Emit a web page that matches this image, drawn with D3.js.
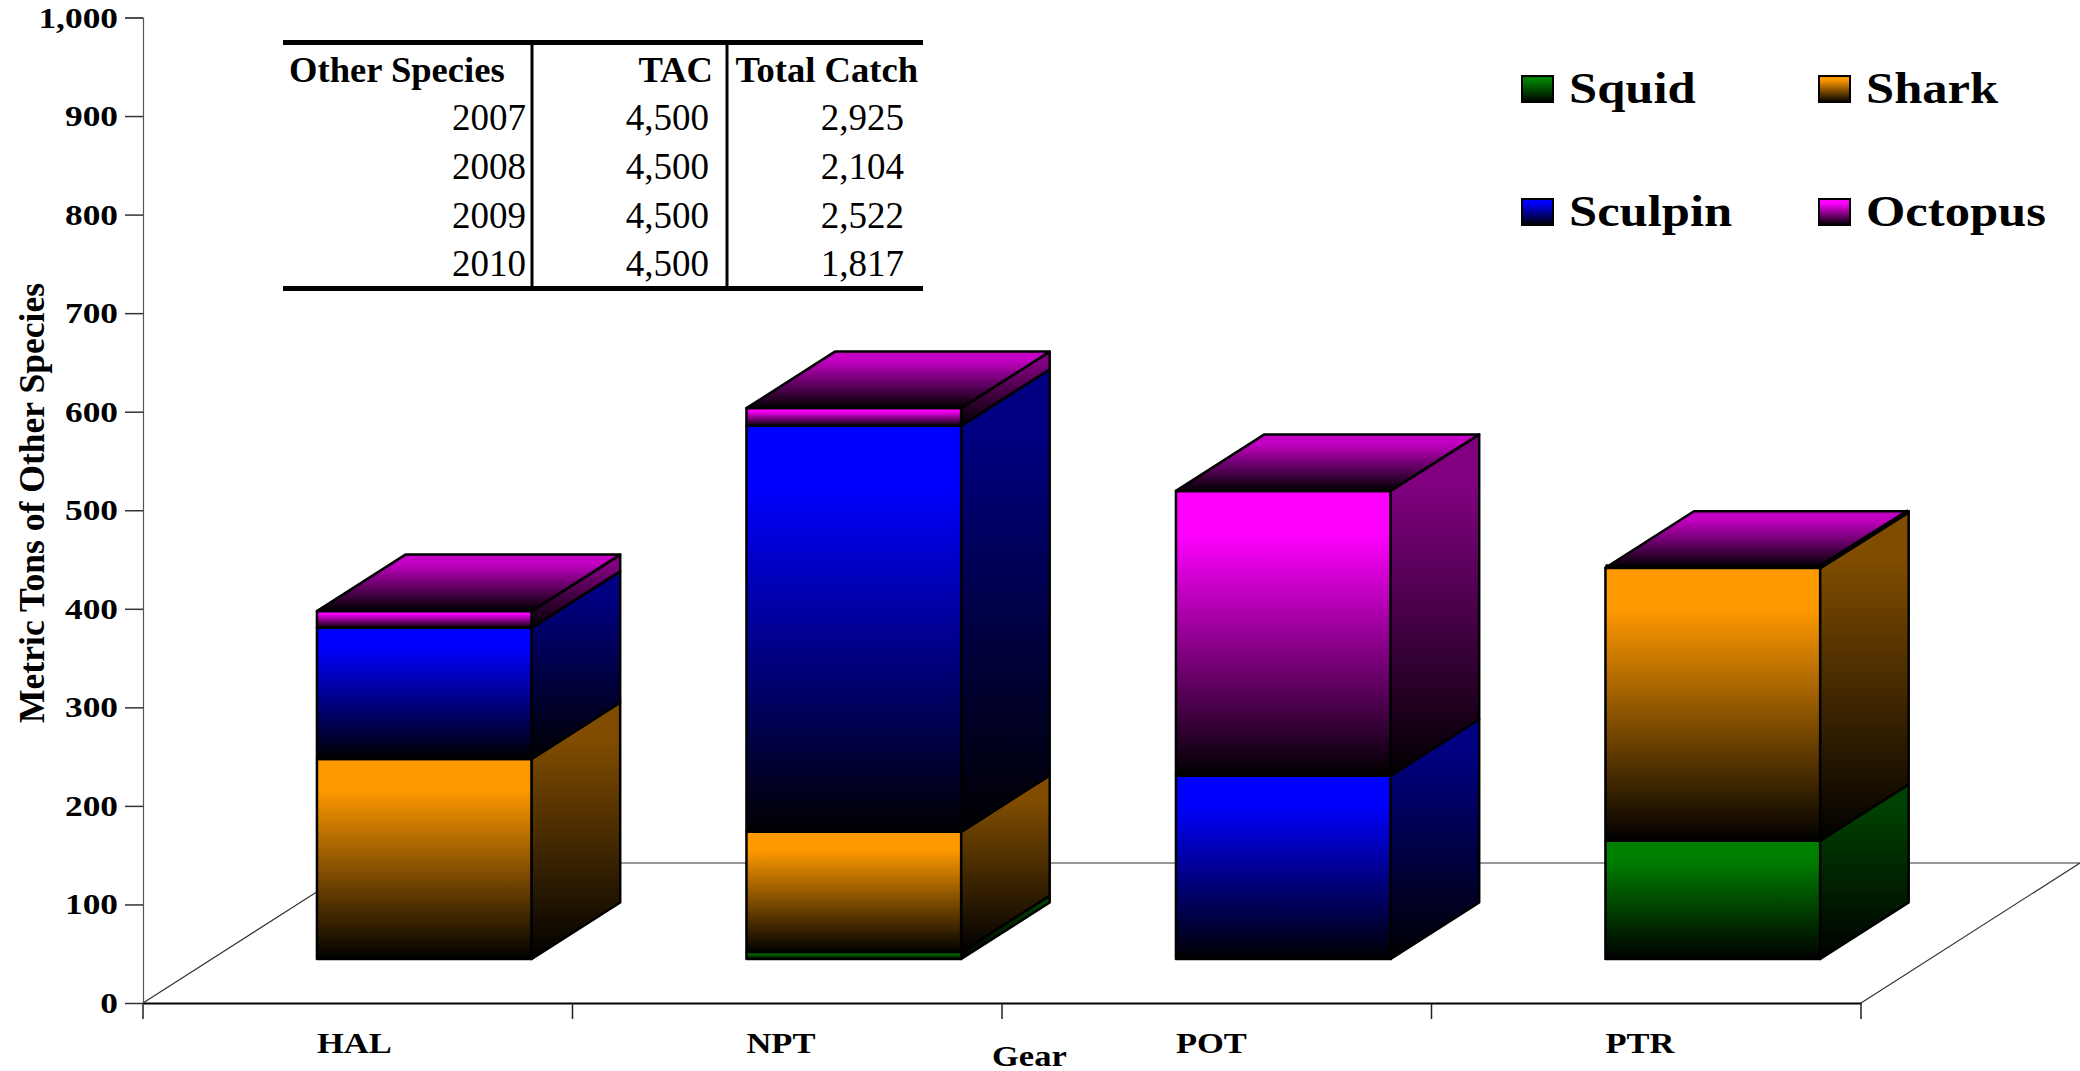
<!DOCTYPE html>
<html>
<head>
<meta charset="utf-8">
<script src="https://d3js.org/d3.v7.min.js"></script>
<style>
  html, body { margin: 0; padding: 0; background: #fff; }
  svg { display: block; }
  text { font-family: "Liberation Serif", serif; fill: #000; }
  .bold { font-weight: bold; }
</style>
</head>
<body>
<div id="chart"></div>
<script>
// chart values
var gears = ["HAL", "NPT", "POT", "PTR"];
var squid = [0, 7, 0, 120];
var shark = [203, 122, 0, 277];
var sculpin = [133, 412, 186, 0];
var octopus = [17, 18, 289, 0];

var seriesNames = ["Squid", "Shark", "Sculpin", "Octopus"];
var seriesValues = [squid, shark, sculpin, octopus];
var seriesColors = ["#008000", "#ff9900", "#0000ff", "#ff00ff"];
var sideColors = ["#004000", "#7f4c00", "#000080", "#800080"];

var yTicks = [0, 100, 200, 300, 400, 500, 600, 700, 800, 900, 1000];

var tableHead = ["Other Species", "TAC", "Total Catch"];
var tableYears = ["2007", "2008", "2009", "2010"];
var tableTac = ["4,500", "4,500", "4,500", "4,500"];
var tableCatch = ["2,925", "2,104", "2,522", "1,817"];

var width = 2080, height = 1071;
var plot = {left: 143, right: 1861, top: 17.5, bottom: 1003};
var floorDepth = {x: 219, y: 140};
var barDepth = {x: 88.5, y: 56.5};
var barLift = 44;

var svg = d3.select("#chart").append("svg")
            .attr("width", width)
            .attr("height", height);

var defs = svg.append("defs");

// the colour holds for a bit at the top, then runs down to black
function makeGradient(id, top) {
  var g = defs.append("linearGradient")
              .attr("id", id)
              .attr("x1", "0%").attr("y1", "0%")
              .attr("x2", "0%").attr("y2", "100%");
  g.append("stop").attr("offset", "0%").attr("stop-color", top);
  g.append("stop").attr("offset", "15%").attr("stop-color", top);
  g.append("stop").attr("offset", "100%").attr("stop-color", "#000");
}

seriesNames.forEach(function(name, i) {
  makeGradient("front" + i, seriesColors[i]);
  makeGradient("side" + i, sideColors[i]);
});
makeGradient("lid", "#c400c4");

var x = d3.scaleBand().domain(gears).range([plot.left, plot.right]);
var y = d3.scaleLinear().domain([0, 1000]).range([plot.bottom, plot.top]);

// floor of the 3d box
var floor = svg.append("g")
               .attr("fill", "none")
               .attr("stroke", "#333")
               .attr("stroke-width", 1.2);

floor.append("path")
     .attr("d", d3.line()([
       [plot.left, plot.bottom],
       [plot.left + floorDepth.x, plot.bottom - floorDepth.y],
       [plot.right + floorDepth.x, plot.bottom - floorDepth.y],
       [plot.right, plot.bottom]
     ]));

// y axis
var yAxis = svg.append("g")
               .attr("transform", "translate(" + plot.left + ",0)")
               .call(d3.axisLeft(y).tickValues(yTicks).tickSize(18).tickFormat(d3.format(",")));
yAxis.selectAll("line").attr("stroke", "#333").attr("stroke-width", 1.5);
yAxis.select(".domain").attr("stroke", "#555").attr("stroke-width", 1.2);
yAxis.selectAll("text")
     .attr("class", "bold")
     .attr("x", 0).attr("dy", null)
     .attr("text-anchor", "end")
     .style("font-size", "29px")
     .style("font-family", "'Liberation Serif', serif")
     .attr("transform", "translate(-25,9.5) scale(1.22,1)");

// x axis
var xAxis = svg.append("g")
               .attr("transform", "translate(0," + plot.bottom + ")")
               .call(d3.axisBottom(x).tickSize(0).tickFormat(""));
xAxis.select(".domain").attr("stroke", "#000").attr("stroke-width", 2);
xAxis.selectAll(".tick").remove();

svg.append("g").selectAll("line")
   .data(d3.range(gears.length + 1))
   .enter().append("line")
   .attr("x1", function(d) { return plot.left + d * x.step(); })
   .attr("x2", function(d) { return plot.left + d * x.step(); })
   .attr("y1", plot.bottom)
   .attr("y2", plot.bottom + 16)
   .attr("stroke", "#222")
   .attr("stroke-width", 1.5);

// gear labels sit under the front left of each bar
var barOffset = x.step() * 0.405;
var barWidth = x.step() * 0.5;

svg.append("g").selectAll("text")
   .data(gears)
   .enter().append("text")
   .attr("class", "bold")
   .attr("transform", function(d) { return "translate(" + (x(d) + barOffset) + ",1053) scale(1.17,1)"; })
   .style("font-size", "29.5px")
   .text(function(d) { return d; });

svg.append("text")
   .attr("class", "bold")
   .attr("transform", "translate(992,1066) scale(1.17,1)")
   .style("font-size", "29.5px")
   .text("Gear");

svg.append("text")
   .attr("class", "bold")
   .attr("transform", "translate(44,723) rotate(-90)")
   .style("font-size", "35.6px")
   .text("Metric Tons of Other Species");

// stacked boxes
var bars = svg.append("g")
              .attr("stroke", "#000")
              .attr("stroke-width", 2.5)
              .attr("stroke-linejoin", "round");

gears.forEach(function(gear, g) {
  var x0 = x(gear) + barOffset;
  var x1 = x0 + barWidth;
  var base = 0;
  var box = bars.append("g");

  seriesValues.forEach(function(values, s) {
    var v = values[g];
    if (v === 0) return;
    var yb = y(base) - barLift;
    var yt = y(base + v) - barLift;
    box.append("rect")
       .attr("x", x0).attr("y", yt)
       .attr("width", barWidth).attr("height", yb - yt)
       .attr("fill", "url(#front" + s + ")");
    box.append("path")
       .attr("d", d3.line()([
         [x1, yb], [x1 + barDepth.x, yb - barDepth.y],
         [x1 + barDepth.x, yt - barDepth.y], [x1, yt]
       ]) + "Z")
       .attr("fill", "url(#side" + s + ")");
    base += v;
  });

  var yTop = y(base) - barLift;
  box.append("path")
     .attr("d", d3.line()([
       [x0, yTop], [x1, yTop],
       [x1 + barDepth.x, yTop - barDepth.y], [x0 + barDepth.x, yTop - barDepth.y]
     ]) + "Z")
     .attr("fill", "url(#lid)");

  // an empty octopus segment still leaves a heavy edge on the top
  if (octopus[g] === 0) {
    box.append("path")
       .attr("d", d3.line()([
         [x0, yTop - 1], [x1, yTop - 1], [x1 + barDepth.x, yTop - barDepth.y]
       ]))
       .attr("fill", "none")
       .attr("stroke-width", 5);
  }
});

// legend, two by two
var legendCols = [1522, 1819];
var legendRows = [76, 199];
var legend = svg.append("g");

seriesNames.forEach(function(name, i) {
  var lx = legendCols[i % 2], ly = legendRows[Math.floor(i / 2)];
  legend.append("rect")
        .attr("x", lx).attr("y", ly)
        .attr("width", 31).attr("height", 26)
        .attr("fill", "url(#front" + i + ")")
        .attr("stroke", "#000")
        .attr("stroke-width", 2);
  legend.append("text")
        .attr("class", "bold")
        .attr("transform", "translate(" + (lx + 47) + "," + (ly + 27) + ") scale(1.15,1)")
        .style("font-size", "44px")
        .text(name);
});

// small table pasted on the chart
var table = svg.append("g");
var tableLeft = 283, tableRight = 923, tableTop = 42.5, tableBottom = 288.5;
var rowBase = [130, 179, 228, 276];

[tableTop, tableBottom].forEach(function(ty) {
  table.append("line")
       .attr("x1", tableLeft).attr("x2", tableRight)
       .attr("y1", ty).attr("y2", ty)
       .attr("stroke", "#000").attr("stroke-width", 5);
});
[532, 727].forEach(function(tx) {
  table.append("line")
       .attr("x1", tx).attr("x2", tx)
       .attr("y1", tableTop).attr("y2", tableBottom)
       .attr("stroke", "#000").attr("stroke-width", 3);
});

function cell(tx, ty, txt, anchor, bold) {
  table.append("text")
       .attr("x", tx).attr("y", ty)
       .attr("text-anchor", anchor)
       .attr("class", bold ? "bold" : null)
       .style("font-size", bold ? "36.6px" : "37px")
       .text(txt);
}

cell(289, 82, tableHead[0], "start", true);
cell(713, 82, tableHead[1], "end", true);
cell(918, 82, tableHead[2], "end", true);

tableYears.forEach(function(yr, i) {
  cell(526, rowBase[i], yr, "end", false);
  cell(709, rowBase[i], tableTac[i], "end", false);
  cell(904, rowBase[i], tableCatch[i], "end", false);
});
</script>
</body>
</html>
